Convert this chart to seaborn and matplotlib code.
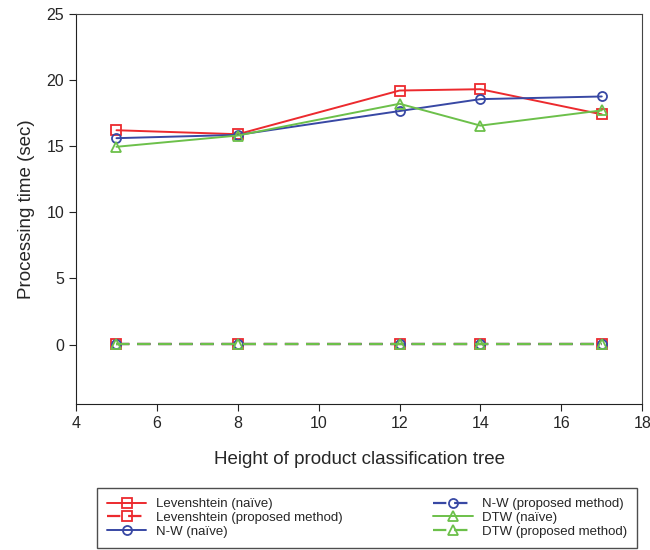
import matplotlib
matplotlib.use("Agg")
import matplotlib.pyplot as plt
import pandas as pd
import seaborn as sns

# tree heights (x axis)
heights = [5, 8, 12, 14, 17]

# processing time in seconds
lev_naive = [16.2, 15.9, 19.2, 19.3, 17.4]
lev_proposed = [0.05, 0.05, 0.05, 0.05, 0.05]
nw_naive = [15.6, 15.85, 17.65, 18.55, 18.75]
nw_proposed = [0.05, 0.05, 0.05, 0.05, 0.05]
dtw_naive = [14.95, 15.8, 18.2, 16.55, 17.7]
dtw_proposed = [0.05, 0.05, 0.05, 0.05, 0.05]

series_names = [
    "Levenshtein (naïve)",
    "Levenshtein (proposed method)",
    "N-W (naïve)",
    "N-W (proposed method)",
    "DTW (naïve)",
    "DTW (proposed method)",
]
series_values = [lev_naive, lev_proposed, nw_naive, nw_proposed, dtw_naive, dtw_proposed]

RED = "#ec2a2e"
BLUE = "#3848a4"
GREEN = "#6cc04a"
DASH = (6, 3.5)
styles = {
    "Levenshtein (naïve)": (RED, "s", None),
    "Levenshtein (proposed method)": (RED, "s", DASH),
    "N-W (naïve)": (BLUE, "o", None),
    "N-W (proposed method)": (BLUE, "o", DASH),
    "DTW (naïve)": (GREEN, "^", None),
    "DTW (proposed method)": (GREEN, "^", DASH),
}

df = pd.concat(
    [pd.DataFrame({"height": heights, "time": vals, "method": name})
     for name, vals in zip(series_names, series_values)],
    ignore_index=True,
)

sns.set_style("ticks")
plt.rcParams["font.family"] = ["Liberation Sans", "DejaVu Sans"]

fig = plt.figure(figsize=(6.5, 5.5), dpi=100)
ax = fig.add_axes([0.117, 0.265, 0.871, 0.71])

for name in series_names:
    color, marker, dash = styles[name]
    sub = df[df["method"] == name]
    sns.lineplot(
        data=sub, x="height", y="time", ax=ax, color=color, marker=marker,
        markersize=6.5, markerfacecolor="none", markeredgecolor=color,
        markeredgewidth=1.3, linewidth=1.4, label=name, legend=False,
    )
    if dash is not None:
        ax.lines[-1].set_dashes(dash)
        ax.lines[-1].set_linewidth(1.6)

ax.set_xlim(4, 18)
ax.set_ylim(-4.5, 25)
ax.set_xticks([4, 6, 8, 10, 12, 14, 16, 18])
ax.set_yticks([0, 5, 10, 15, 20, 25])
ax.tick_params(labelsize=11.5, length=5, color="#222222", direction="out")
ax.set_xlabel("Height of product classification tree", fontsize=13.5, labelpad=14)
ax.set_ylabel("Processing time (sec)", fontsize=13.5, labelpad=8)
for side in ["top", "right"]:
    ax.spines[side].set_visible(True)
    ax.spines[side].set_color("#444444")
for side in ["left", "bottom"]:
    ax.spines[side].set_color("#222222")

# legend box below the axes, two columns
handles = ax.lines[:]
leg = fig.legend(
    handles, series_names, loc="lower left",
    bbox_to_anchor=(0.149, 0.004, 0.831, 0.118), mode="expand", ncol=2,
    fontsize=9.5, frameon=True, fancybox=False, edgecolor="#222222",
    handlelength=3.0, handletextpad=0.7, borderaxespad=0, borderpad=0.75,
    labelspacing=0.12, columnspacing=1.0,
)
leg.get_frame().set_linewidth(1.0)

fig.savefig("out.png", dpi=100)
plt.close(fig)
